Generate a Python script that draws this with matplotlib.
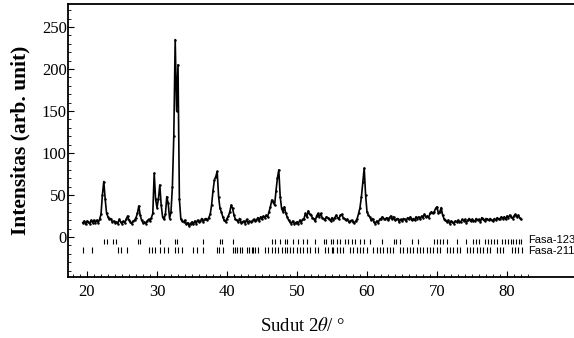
import numpy as np
import matplotlib
matplotlib.use("Agg")
import matplotlib.pyplot as plt
from matplotlib.ticker import FixedLocator

# 2-theta grid (deg) and intensity
two_theta = np.round(np.arange(19.4, 82.01, 0.2), 1)
intensity = [
    17, 19, 15, 19, 18, 16, 20, 17, 20, 17,      # 19.4-21.2
    20, 17, 21, 27, 50, 66, 45, 28, 24, 21,      # 21.4-23.2
    22, 18, 19, 17, 18, 16, 21, 18, 16, 19,      # 23.4-25.2
    17, 21, 25, 20, 18, 16, 19, 20, 23, 28,      # 25.4-27.2
    37, 26, 20, 17, 18, 16, 19, 21, 19, 23,      # 27.4-29.2
    28, 76, 45, 35, 45, 62, 38, 24, 21, 27,      # 29.4-31.2
    48, 40, 22, 30, 60, 120, 235, 150, 205, 45,  # 31.4-33.2
    22, 19, 18, 20, 15, 17, 13, 16, 18, 15,      # 33.4-35.2
    19, 16, 20, 18, 19, 22, 18, 21, 22, 20,      # 35.4-37.2
    23, 27, 38, 55, 68, 72, 78, 48, 34, 30,      # 37.4-39.2
    24, 20, 18, 22, 25, 30, 38, 34, 26, 21,      # 39.4-41.2
    20, 18, 22, 17, 18, 19, 16, 21, 17, 19,      # 41.4-43.2
    18, 19, 21, 19, 20, 23, 19, 24, 21, 25,      # 43.4-45.2
    23, 26, 24, 30, 36, 44, 42, 38, 55, 70,      # 45.4-47.2
    80, 48, 34, 30, 36, 28, 24, 20, 18, 16,      # 47.4-49.2
    19, 16, 17, 18, 16, 20, 17, 21, 22, 28,      # 49.4-51.2
    24, 31, 27, 26, 23, 22, 19, 25, 28, 24,      # 51.4-53.2
    28, 23, 22, 20, 24, 23, 22, 19, 23, 20,      # 53.4-55.2
    23, 26, 23, 22, 26, 27, 23, 22, 20, 21,      # 55.4-57.2
    18, 19, 20, 18, 17, 19, 22, 28, 35, 48,      # 57.4-59.2
    65, 82, 50, 30, 26, 24, 20, 22, 18, 16,      # 59.4-61.2
    19, 17, 21, 22, 24, 22, 21, 23, 20, 23,      # 61.4-63.2
    25, 21, 24, 20, 21, 22, 18, 21, 19, 22,      # 63.4-65.2
    21, 19, 23, 21, 24, 20, 22, 20, 24, 22,      # 65.4-67.2
    24, 21, 25, 23, 27, 24, 25, 23, 28, 30,      # 67.4-69.2
    28, 30, 34, 36, 28, 30, 35, 26, 22, 20,      # 69.4-71.2
    18, 20, 16, 19, 18, 16, 19, 18, 20, 18,      # 71.4-73.2
    18, 21, 19, 21, 17, 20, 22, 19, 21, 19,      # 73.4-75.2
    19, 22, 20, 21, 18, 23, 21, 19, 22, 21,      # 75.4-77.2
    20, 22, 20, 19, 22, 20, 23, 21, 22, 24,      # 77.4-79.2
    22, 24, 21, 25, 23, 26, 24, 22, 25, 27,      # 79.4-81.2
    24, 26, 23, 21,                              # 81.4-82.0
]

# Bragg reflection positions (deg)
fasa_123 = [22.43, 22.81, 23.76, 24.14, 27.33, 27.57, 30.43, 32.57, 32.9,
            36.62, 39.0, 39.24, 40.8, 46.4, 46.9, 47.6, 48.3, 48.6, 49.5,
            50.2, 50.9, 51.4, 52.6, 53.8, 54.2, 54.8, 55.2, 55.7, 56.1,
            56.9, 57.3, 57.8, 58.3, 59.0, 59.5, 60.4, 62.1, 63.8, 64.2,
            64.7, 66.4, 67.3, 69.5, 70.0, 70.4, 70.9, 71.4, 72.8, 74.2,
            75.2, 75.6, 76.0, 76.9, 77.3, 77.7, 78.1, 78.6, 79.3, 79.7,
            80.1, 80.5, 80.9, 81.3, 81.7, 82.0]
fasa_211 = [19.38, 20.66, 24.47, 24.85, 25.66, 28.9, 29.24, 29.71, 30.43,
            31.0, 31.62, 32.57, 33.05, 33.52, 35.19, 35.66, 36.62, 38.52,
            38.9, 39.47, 40.9, 41.2, 41.5, 41.8, 42.1, 42.81, 43.19, 43.52,
            43.76, 44.0, 44.47, 45.43, 45.9, 46.38, 46.86, 47.33, 47.81,
            48.28, 48.62, 49.0, 49.38, 49.95, 50.43, 50.9, 51.38, 51.86,
            52.57, 53.05, 54.0, 54.47, 54.95, 55.19, 55.66, 56.14, 56.62,
            57.57, 58.05, 58.52, 59.0, 59.47, 59.95, 60.9, 61.38, 61.86,
            62.33, 62.81, 63.28, 63.76, 64.71, 65.19, 65.66, 66.14, 66.62,
            67.09, 67.57, 68.05, 68.52, 69.0, 69.47, 69.95, 70.43, 71.38,
            71.86, 72.33, 72.81, 73.28, 74.24, 74.71, 75.19, 75.66, 76.14,
            76.62, 77.09, 77.57, 78.52, 79.0, 79.47, 80.67, 81.14, 81.62,
            82.1]
phase_labels = ["Fasa-123", "Fasa-211"]

x_ticks = [20, 30, 40, 50, 60, 70, 80]
y_ticks = [0, 50, 100, 150, 200, 250]

plt.rcParams['mathtext.fontset'] = 'stix'
serif = ['Liberation Serif', 'DejaVu Serif']

fig = plt.figure(figsize=(5.74, 3.38), dpi=100)
ax = fig.add_axes([0.1185, 0.1805, 0.8815, 0.8077])

ax.plot(two_theta, intensity, color='black', lw=1.2, marker='.', ms=1.6)

ax.vlines(fasa_123, -2, -8, color='black', lw=0.8)
ax.vlines(fasa_211, -12, -19, color='black', lw=0.8)
ax.text(83.0, -3.0, phase_labels[0], fontsize=8, family='Liberation Sans',
        va='center', ha='left')
ax.text(83.0, -16.5, phase_labels[1], fontsize=8, family='Liberation Sans',
        va='center', ha='left')

ax.set_xlim(17.29, 89.57)
ax.set_ylim(-47.6, 277.4)

ax.xaxis.set_major_locator(FixedLocator(x_ticks))
ax.xaxis.set_minor_locator(FixedLocator(list(range(18, 84))))
ax.yaxis.set_major_locator(FixedLocator(y_ticks))
ax.yaxis.set_minor_locator(FixedLocator(list(range(-40, 271, 10))))

ax.tick_params(axis='both', which='major', direction='in', length=4, width=0.8,
               labelsize=12)
ax.tick_params(axis='both', which='minor', direction='in', length=2, width=0.6)
ax.tick_params(axis='x', which='major', pad=5)
ax.tick_params(axis='y', which='major', pad=1)
ax.tick_params(top=False, right=False, which='both')
for lab in ax.get_xticklabels() + ax.get_yticklabels():
    lab.set_family(serif)

ax.spines['right'].set_visible(False)
for s in ['left', 'top', 'bottom']:
    ax.spines[s].set_linewidth(1.3)

ax.set_ylabel('Intensitas (arb. unit)', fontsize=15.5, fontweight='bold',
              family=serif)
ax.yaxis.set_label_coords(-0.074, 0.5)
ax.set_xlabel(r'Sudut 2$\theta$/ °', fontsize=13.5, family=serif)
ax.xaxis.set_label_coords(0.464, -0.145)

fig.savefig('out.png', dpi=100)
